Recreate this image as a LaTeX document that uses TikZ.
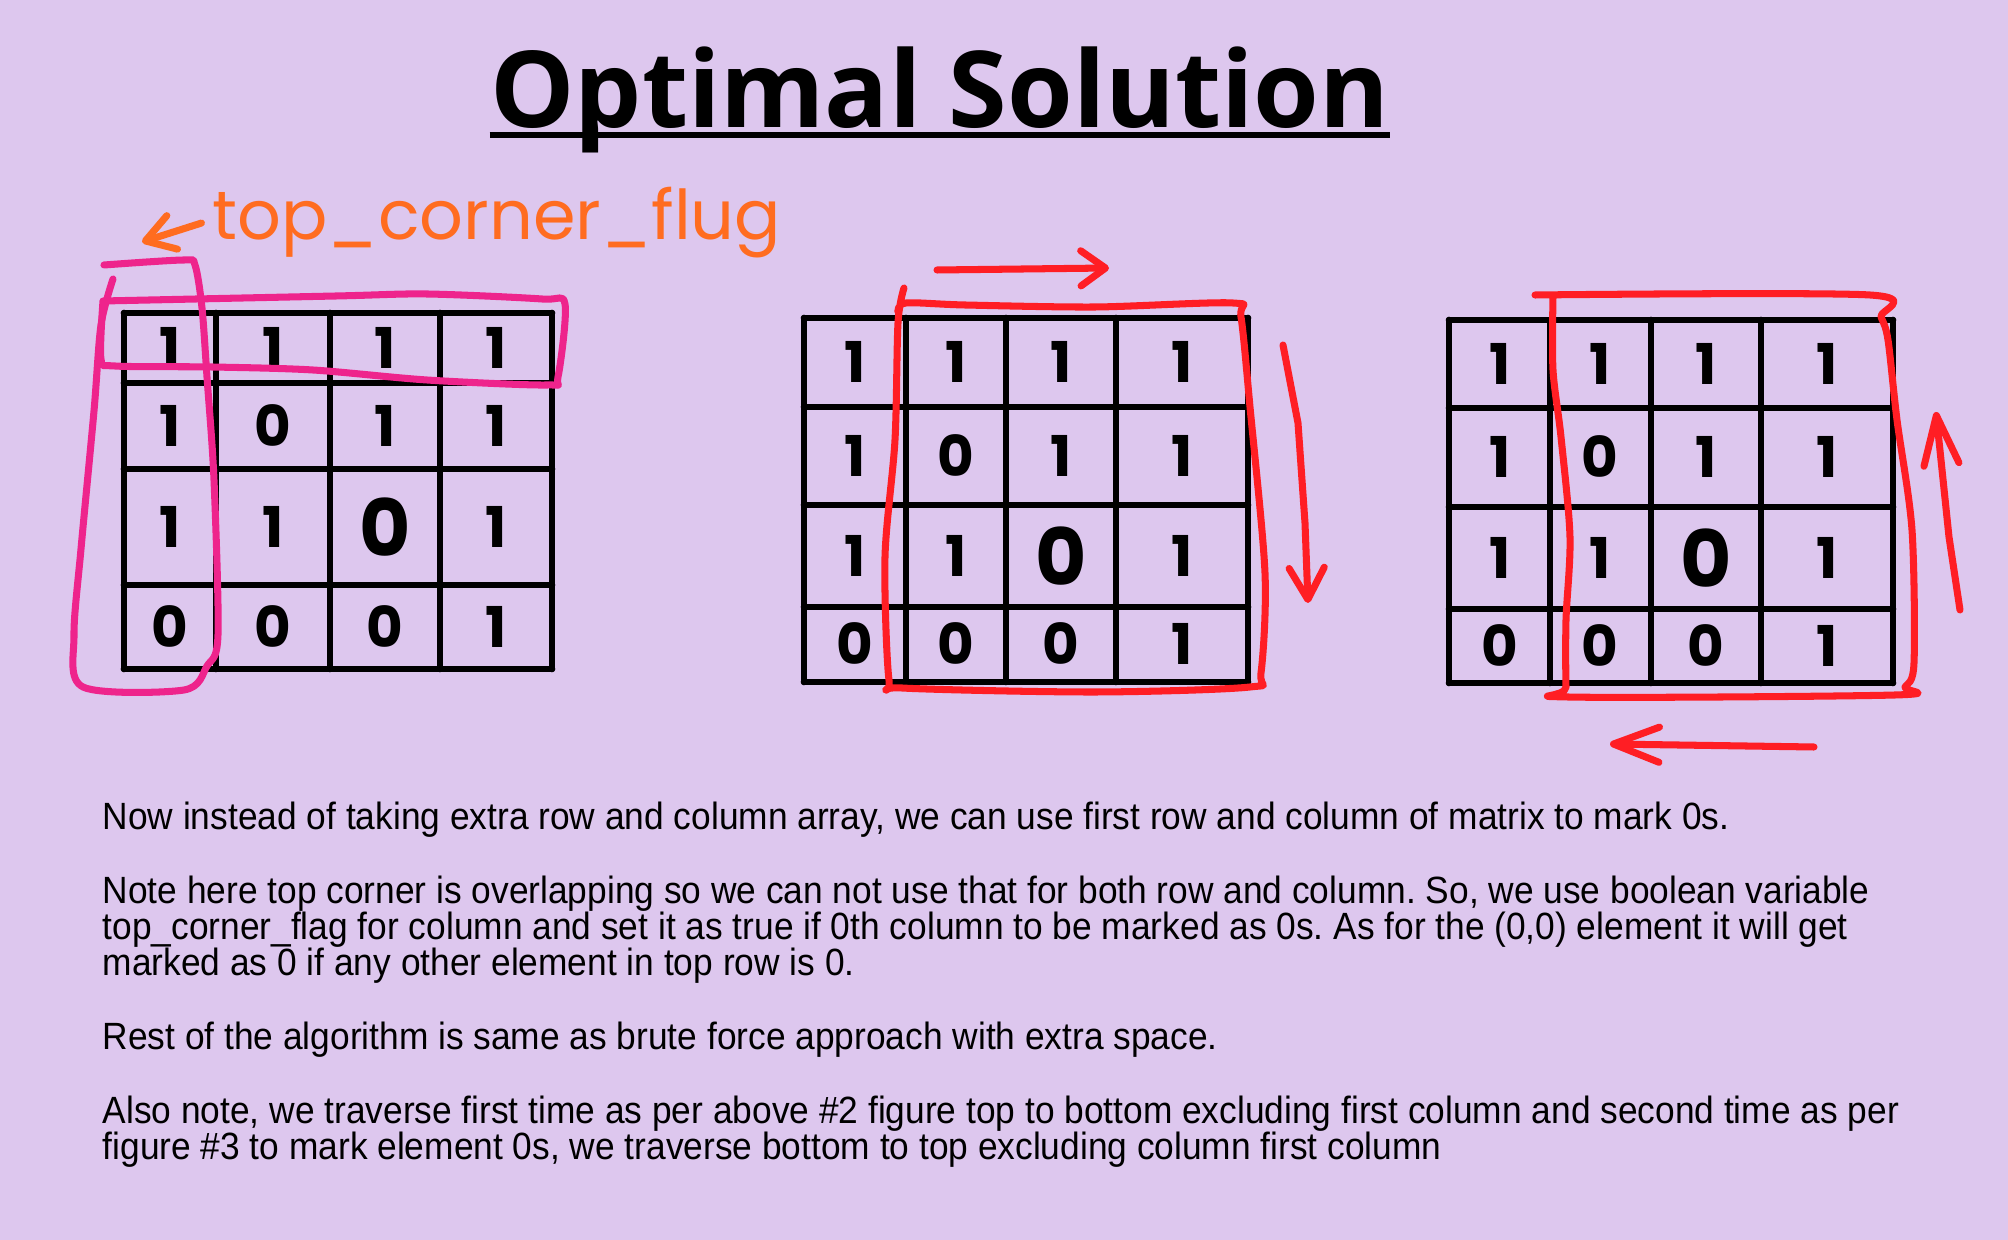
\documentclass[tikz,border=0pt]{standalone}
\usepackage{fontspec}
\setmainfont{Liberation Sans}
\newfontfamily\titlefont{Open Sans}
\newfontfamily\bodyfont[FakeStretch=0.93]{Liberation Sans}
\newfontfamily\handfont{Poppins}
\usetikzlibrary{arrows.meta,positioning}
\definecolor{bgpurple}{RGB}{221,199,238}
\definecolor{penpink}{RGB}{238,36,140}
\definecolor{penred}{RGB}{255,30,36}
\definecolor{penorange}{RGB}{255,108,32}
\frenchspacing

\begin{document}
\begin{tikzpicture}[
  x=0.01cm, y=-0.01cm,
  gridline/.style={line width=1.9pt, line cap=round},
  digit/.style={font=\handfont\bfseries\fontsize{16}{16}\selectfont, inner sep=0pt},
  pen/.style={line width=2pt, line cap=round, line join=round},
  barb/.style={-{Straight Barb[round, length=#1, width=10pt]}},
  bodytext/.style={font=\bodyfont\fontsize{10.8}{10.8}\selectfont, anchor=base west, inner sep=0pt}
]
\useasboundingbox (0,0) rectangle (2008,1240);
\fill[bgpurple] (0,0) rectangle (2008,1240);

% title
\node[font=\titlefont\bfseries\fontsize{30.2}{30.2}\selectfont, anchor=base, inner sep=0pt] (title) at (940,128) {Optimal Solution};
\draw[line width=1.5pt] ([yshift=-2pt]title.base west) -- ([yshift=-2pt]title.base east);

% grid 1
\foreach \x in {124,216,330,440,552} \draw[gridline] (\x,313) -- (\x,669);
\foreach \y in {313,383,469,585,669} \draw[gridline] (124,\y) -- (552,\y);
\foreach \v [count=\i from 0] in {1,1,1,1, 1,0,1,1, 1,1,0,1, 0,0,0,1} {
  \pgfmathsetmacro\cx{{170,273,385,496}[mod(\i,4)]}
  \pgfmathsetmacro\cy{{348,426,527,627}[int(\i/4)]}
  \node[digit, scale={ifthenelse(\i==10,1.4,1)}] (a\i) at (\cx,\cy) {\v};
}

% grid 2
\foreach \x in {804,906,1006,1116,1248} \draw[gridline] (\x,318) -- (\x,682);
\foreach \y in {318,407,505,607,682} \draw[gridline] (804,\y) -- (1248,\y);
\foreach \v [count=\i from 0] in {1,1,1,1, 1,0,1,1, 1,1,0,1, 0,0,0,1} {
  \pgfmathsetmacro\cx{{855,956,1061,1182}[mod(\i,4)]}
  \pgfmathsetmacro\cy{{362,456,556,644}[int(\i/4)]}
  \node[digit, scale={ifthenelse(\i==10,1.4,1)}] (b\i) at (\cx,\cy) {\v};
}

% grid 3
\foreach \x in {1449,1550,1651,1761,1893} \draw[gridline] (\x,320) -- (\x,683);
\foreach \y in {320,408,507,609,683} \draw[gridline] (1449,\y) -- (1893,\y);
\foreach \v [count=\i from 0] in {1,1,1,1, 1,0,1,1, 1,1,0,1, 0,0,0,1} {
  \pgfmathsetmacro\cx{{1500,1600,1706,1827}[mod(\i,4)]}
  \pgfmathsetmacro\cy{{364,457,558,646}[int(\i/4)]}
  \node[digit, scale={ifthenelse(\i==10,1.4,1)}] (c\i) at (\cx,\cy) {\v};
}

% flag label and marks on grid 1
\node[font=\handfont\fontsize{19.5}{19.5}\selectfont, text=penorange, anchor=base west, inner sep=0pt] (flaglabel) at (212,240) {top\_corner\_flug};
\draw[pen, penorange, barb=8pt] ([xshift=-3pt]flaglabel.west) -- (142,242);
\draw[pen, penpink] plot[smooth, tension=0.5] coordinates {(104,265) (184,260) (195,265) (202,308) (207,377) (214,480) (218,635) (207,666) (184,690) (83,687) (74,635) (81,549) (94,411) (101,325) (113,279)};
\draw[pen, penpink] plot[smooth, tension=0.5] coordinates {(103,301) (336,296) (427,294) (542,299) (565,304) (558,377) (547,385) (427,380) (313,370) (212,367) (115,366) (101,359) (103,301)};

% marks on grid 2
\draw[pen, penred] plot[smooth, tension=0.5] coordinates {(904,288) (898,323) (895,440) (885,557) (889,680) (902,688) (1095,692) (1250,687) (1261,673) (1265,573) (1250,407) (1241,317) (1233,303) (1095,307) (965,305) (906,303) (898,312)};
\draw[pen, penred, barb=7pt] (937,270) -- (1109,268);
\draw[pen, penred, barb=9pt] (1283,345) -- (1298,423) -- (1305,523) -- (1308,603);

% marks on grid 3
\draw[pen, penred] plot[smooth, tension=0.5] coordinates {(1535,295) (1870,295) (1881,317) (1888,340) (1897,420) (1912,530) (1914,663) (1905,687) (1895,695) (1568,697) (1566,687) (1566,620) (1570,537) (1561,437) (1553,370) (1553,297)};
\draw[pen, penred, barb=14pt] (1960,610) -- (1949,537) -- (1936,412);
\draw[pen, penred, barb=13pt] (1814,747) -- (1610,744);

% notes
\node[bodytext] (p1) at (102,830) {Now instead of taking extra row and column array, we can use first row and column of matrix to mark 0s.};
\node[bodytext] (p2a) at (102,904) {Note here top corner is overlapping so we can not use that for both row and column. So, we use boolean variable};
\node[bodytext] (p2b) at (102,940) {top\_corner\_flag for column and set it as true if 0th column to be marked as 0s. As for the (0,0) element it will get};
\node[bodytext] (p2c) at (102,976) {marked as 0 if any other element in top row is 0.};
\node[bodytext] (p3) at (102,1050) {Rest of the algorithm is same as brute force approach with extra space.};
\node[bodytext] (p4a) at (102,1124) {Also note, we traverse first time as per above \#2 figure top to bottom excluding first column and second time as per};
\node[bodytext] (p4b) at (102,1160) {figure \#3 to mark element 0s, we traverse bottom to top excluding column first column};
\end{tikzpicture}
\end{document}
